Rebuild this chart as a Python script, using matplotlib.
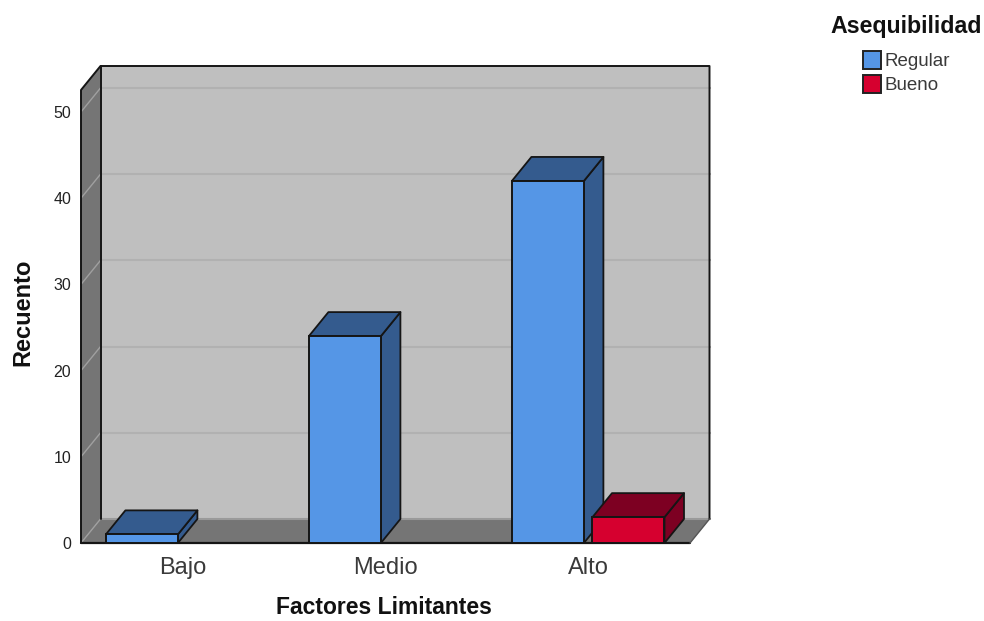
import matplotlib
matplotlib.use('Agg')
import matplotlib.pyplot as plt
from matplotlib.patches import Polygon, Rectangle

categories = ['Bajo', 'Medio', 'Alto']
regular = [1, 24, 42]
bueno = [0, 0, 3]
y_ticks = [0, 10, 20, 30, 40, 50]

plt.rcParams['font.family'] = ['Liberation Sans', 'DejaVu Sans']

W, H = 984, 621
fig = plt.figure(figsize=(W / 100, H / 100), dpi=100)
ax = fig.add_axes([81 / W, 1 - 543 / H, 609 / W, 453 / H])
ax.set_xlim(-0.5, 2.5)
ax.set_ylim(0, 52.55)

# depth of the fake 3d box, in data units
DX = 19.5 / 203
DY = 24 / 8.62
YMAX = 52.55
XL, XR = -0.5, 2.5
WALL = '#bfbfbf'
DARK = '#757575'
EDGE = '#151515'


def poly(pts, color, edge='none', lw=1.3, z=1):
    ax.add_patch(Polygon(pts, closed=True, facecolor=color, edgecolor=edge,
                         linewidth=lw, zorder=z, clip_on=False, joinstyle='round'))


def line(xs, ys, color=EDGE, lw=1.4, z=2):
    ax.plot(xs, ys, color=color, lw=lw, zorder=z, clip_on=False, solid_capstyle='round')


# back wall, left wall, floor
poly([(XL + DX, DY), (XR + DX, DY), (XR + DX, DY + YMAX), (XL + DX, DY + YMAX)], WALL)
poly([(XL, 0), (XL + DX, DY), (XL + DX, DY + YMAX), (XL, YMAX)], DARK)
poly([(XL, 0), (XR, 0), (XR + DX, DY), (XL + DX, DY)], DARK)

# gridlines run along the back wall and down the left wall
for t in y_ticks:
    if t > 0:
        line([XL + DX, XR + DX], [t + DY, t + DY], color='#b1b1b1', lw=1.5)
    line([XL, XL + DX], [t, t + DY], color='#a0a0a0', lw=1.0)
# soft band where the wall meets the floor
line([XL + DX, XR + DX], [DY, DY], color='#9a9a9a', lw=1.5)

line([XL, XL, XL + DX, XR + DX, XR + DX], [0, YMAX, YMAX + DY, YMAX + DY, DY])
line([XL + DX, XL + DX], [DY, YMAX + DY])
line([XL, XR], [0, 0], lw=1.6)
line([XR, XR + DX], [0, DY], color='#555555', lw=1.0)


def bar3d(x, h, w, front, shade):
    if h <= 0:
        return
    x0, x1 = x - w / 2, x + w / 2
    poly([(x1, 0), (x1 + DX, DY), (x1 + DX, h + DY), (x1, h)], shade, EDGE, z=4)
    poly([(x0, h), (x1, h), (x1 + DX, h + DY), (x0 + DX, h + DY)], shade, EDGE, z=4)
    ax.add_patch(Rectangle((x0, 0), w, h, facecolor=front, edgecolor=EDGE,
                           linewidth=1.4, zorder=5, clip_on=False))


bar_w = 72 / 203
for i in range(len(categories)):
    bar3d(i - 0.2, regular[i], bar_w, '#5596e6', '#345b8e')
for i in range(len(categories)):
    bar3d(i + 0.197, bueno[i], bar_w, '#d6002f', '#7d0022')

for s in ax.spines.values():
    s.set_visible(False)
ax.patch.set_visible(False)
ax.set_xticks(range(len(categories)))
ax.set_xticklabels(categories, fontsize=17, color='#3a3a3a', va='baseline')
ax.set_yticks(y_ticks)
ax.set_yticklabels(y_ticks, fontsize=11.5, color='#222222')
ax.tick_params(axis='both', length=0)
ax.tick_params(axis='x', pad=22)
ax.tick_params(axis='y', pad=7)

fig.text(384 / W, 1 - 607.5 / H, 'Factores Limitantes', fontsize=16.5, fontweight='bold',
         ha='center', va='center', color='#111111')
fig.text(23 / W, 1 - 312 / H, 'Recuento', fontsize=17, fontweight='bold',
         rotation=90, ha='center', va='center', color='#111111')

# legend
fig.text(906.5 / W, 1 - 27 / H, 'Asequibilidad', fontsize=16.7, fontweight='bold',
         ha='center', va='center', color='#111111')
legend_items = [('Regular', '#5596e6', 60), ('Bueno', '#d6002f', 84)]
for name, col, yc in legend_items:
    fig.add_artist(Rectangle((863 / W, 1 - (yc + 9) / H), 18 / W, 18 / H, facecolor=col,
                             edgecolor='#222222', linewidth=1.4, transform=fig.transFigure))
    fig.text(885 / W, 1 - (yc + 2) / H, name, fontsize=13.5, ha='left', va='center', color='#3a3a3a')

fig.savefig('out.png', dpi=100)
